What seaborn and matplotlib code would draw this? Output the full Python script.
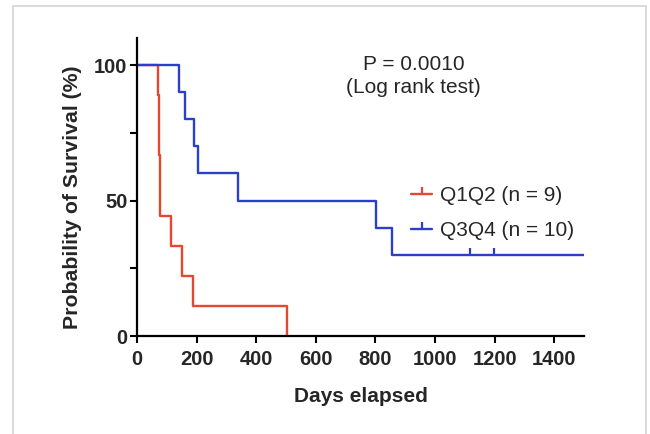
import numpy as np
import pandas as pd
import matplotlib
matplotlib.use("Agg")
import matplotlib.pyplot as plt
from matplotlib.lines import Line2D
from matplotlib.patches import Rectangle
from matplotlib.ticker import MultipleLocator
import seaborn as sns

# ---- data ----
groups = ["Q1Q2 (n = 9)", "Q3Q4 (n = 10)"]
colors = ["#E5472F", "#2B3FCB"]
q1q2_days = [70, 74, 74, 78, 78, 113, 150, 188, 503]
q1q2_event = [1, 1, 1, 1, 1, 1, 1, 1, 1]
q3q4_days = [141, 161, 191, 204, 338, 801, 856, 1117, 1198, 1520]
q3q4_event = [1, 1, 1, 1, 1, 1, 1, 0, 0, 0]
x_ticks = [0, 200, 400, 600, 800, 1000, 1200, 1400]
y_ticks = [0, 50, 100]
p_text = "P = 0.0010\n(Log rank test)"


def km(days, events):
    d = np.array(days, float)
    e = np.array(events, int)
    order = np.argsort(d, kind="stable")
    d, e = d[order], e[order]
    s = 1.0
    ts, ss = [0.0], [100.0]
    cens_t, cens_s = [], []
    for t in np.unique(d):
        at_risk = np.sum(d >= t)
        deaths = np.sum((d == t) & (e == 1))
        cens = np.sum((d == t) & (e == 0))
        if deaths:
            s *= (1 - deaths / at_risk)
            ts.append(t)
            ss.append(s * 100)
        if cens:
            cens_t.append(t)
            cens_s.append(s * 100)
    if cens_t and cens_t[-1] > ts[-1]:
        ts.append(cens_t[-1])
        ss.append(s * 100)
    return ts, ss, cens_t, cens_s


rows, crow = [], []
for g, dd, ee in [(groups[0], q1q2_days, q1q2_event), (groups[1], q3q4_days, q3q4_event)]:
    ts, ss, ct, cs = km(dd, ee)
    rows += [{"group": g, "t": a, "s": b} for a, b in zip(ts, ss)]
    crow += [{"group": g, "t": a, "s": b} for a, b in zip(ct, cs)]
curve = pd.DataFrame(rows)
cens = pd.DataFrame(crow)

sns.set_theme(style="white")
plt.rcParams["font.family"] = ["Liberation Sans", "DejaVu Sans"]

fig = plt.figure(figsize=(6.5, 4.34), dpi=100)
fig.patch.set_facecolor("white")
# card frame
fig.patches.append(Rectangle((13 / 650, -0.05), (646 - 13) / 650, 1.05 - 6 / 434,
                             transform=fig.transFigure, fill=False,
                             edgecolor="#d4d4d4", linewidth=1.2, zorder=0))
ax = fig.add_axes([137 / 650, 1 - 336 / 434, (584 - 137) / 650, (336 - 38) / 434])
palette = dict(zip(groups, colors))

sns.lineplot(data=curve, x="t", y="s", hue="group", palette=palette,
             estimator=None, sort=False, drawstyle="steps-post",
             linewidth=1.7, legend=False, ax=ax)
for g in groups:
    sub = cens[cens["group"] == g]
    if len(sub):
        ax.plot(sub["t"], sub["s"], linestyle="none", marker=2, markersize=5,
                markeredgewidth=1.6, color=palette[g])

ax.set_xlim(0, 1500)
ax.set_ylim(0, 110)
ax.set_xticks(x_ticks)
ax.set_yticks(y_ticks)
ax.yaxis.set_minor_locator(MultipleLocator(25))
for s in ["top", "right"]:
    ax.spines[s].set_visible(False)
for s in ["left", "bottom"]:
    ax.spines[s].set_linewidth(1.6)
    ax.spines[s].set_color("black")
ax.tick_params(axis="both", which="both", direction="out", length=5, width=1.5,
               color="black", bottom=True, left=True)
ax.tick_params(axis="y", which="major", labelsize=14.5, pad=2)
ax.tick_params(axis="x", which="major", labelsize=14.5, pad=5)
for lab in ax.get_xticklabels() + ax.get_yticklabels():
    lab.set_fontweight("bold")
ax.set_xlabel("Days elapsed", fontsize=15, fontweight="bold", labelpad=13)
ax.set_ylabel("Probability of Survival (%)", fontsize=15.3, fontweight="bold")
ax.yaxis.set_label_coords(-0.122, 0.465)

ax.text(929, 96, p_text, fontsize=15, ha="center", va="center",
        transform=ax.transData, linespacing=1.25)

handles = [Line2D([], [], color=c, linewidth=1.7, marker=2, markersize=5,
                  markeredgewidth=1.6) for c in colors]
leg = ax.legend(handles, groups, loc="upper left", bbox_to_anchor=(0.595, 0.53),
                frameon=False, fontsize=15, handlelength=1.0, handletextpad=0.4,
                labelspacing=0.75, borderaxespad=0)

fig.savefig("out.png", dpi=100)
